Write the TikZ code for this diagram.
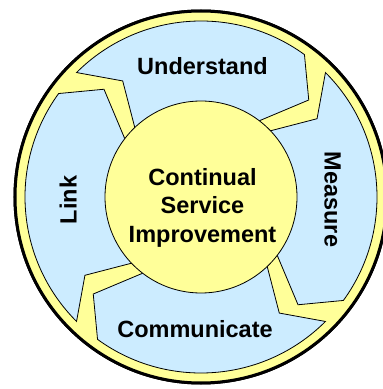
\documentclass[tikz,border=0pt]{standalone}
\usepackage{fontspec}
\setmainfont{Liberation Sans}
\definecolor{ringyellow}{HTML}{FFFF99}
\definecolor{arrowblue}{HTML}{CCECFF}
\begin{document}
\begin{tikzpicture}[x=1pt,y=1pt,
  ringstyle/.style={fill=ringyellow,draw=black,line width=3pt},
  arrowbox/.style={fill=arrowblue,draw=black,line width=0.8pt,line join=miter},
  corestyle/.style={fill=ringyellow,draw=black,line width=0.8pt},
  labeltext/.style={font=\bfseries\fontsize{23.5}{28.5}\selectfont,inner sep=0pt}]
\useasboundingbox (0,0) rectangle (383,389);
\coordinate (C) at (201,192);
\begin{scope}[shift={(C)}]
  \fill[ringstyle] (0,0) circle[radius=186];
  \draw[ringstyle] (0,0) circle[radius=186];
  \foreach \T/\H in {135/54, 45/-36, -45/-126, -135/-216}{
    \pgfmathsetmacro{\tip}{\H-12}
    \pgfmathsetmacro{\notch}{\T-11}
    \draw[arrowbox] (\T:176) arc[start angle=\T, end angle=\H, radius=176]
      -- (\tip:145) -- (\H:92) arc[start angle=\H, end angle=\T, radius=92]
      -- (\notch:140) -- cycle;
  }
  \node[corestyle,circle,minimum size=192pt,inner sep=0pt] (core) at (0,0) {};
\end{scope}
\node[labeltext,align=center] (csi) at (202.5,181.5) {Continual\\Service\\Improvement};
\node[labeltext,anchor=base] (understand) at (202.5,314) {Understand};
\node[labeltext,anchor=base] (communicate) at (195,52) {Communicate};
\node[labeltext,rotate=-90] (measure) at (332.5,189.5) {Measure};
\node[labeltext,rotate=90] (link) at (68,189) {Link};
\end{tikzpicture}
\end{document}
